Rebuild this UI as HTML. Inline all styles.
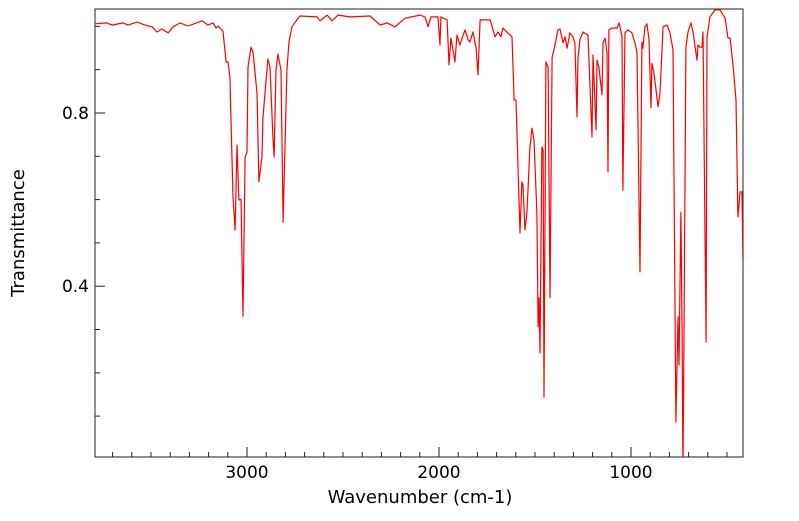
<!DOCTYPE html>
<html><head><meta charset="utf-8"><style>
body{margin:0;background:#fff;}
svg text{font-family:"DejaVu Sans","Liberation Sans",sans-serif;fill:#000;}
</style></head><body>
<svg id="chart" width="799" height="516" xmlns="http://www.w3.org/2000/svg">
<defs><clipPath id="clip"><rect x="95" y="9" width="648" height="448"/></clipPath></defs>
<rect x="95" y="9" width="648" height="448" fill="#fff" stroke="#222" stroke-width="1"/>
<g id="ticks"></g>
<g id="series" clip-path="url(#clip)"></g>
<text x="0" y="0" font-size="18" text-anchor="middle" transform="translate(24,233) rotate(-90)">Transmittance</text>
<text x="420" y="503" font-size="18" text-anchor="middle">Wavenumber (cm-1)</text>
</svg>
<script>
const wavenumbers=[3792,3729,3703,3646,3620,3573,3531,3495,3469,3443,3411,3385,3349,3307,3234,3203,3177,3161,3151,3125,3109,3099,3089,3073,3062,3052,3042,3031,3021,3010,3000,2995,2979,2969,2948,2938,2922,2917,2891,2880,2865,2859,2849,2839,2823,2812,2792,2781,2766,2740,2724,2635,2620,2583,2557,2526,2464,2359,2307,2271,2229,2177,2099,2073,2057,2042,2005,1995,1990,1958,1948,1938,1927,1917,1906,1891,1880,1864,1849,1839,1823,1807,1797,1786,1734,1708,1693,1677,1667,1641,1620,1609,1599,1578,1568,1563,1552,1542,1526,1516,1505,1490,1484,1479,1474,1464,1458,1453,1443,1432,1422,1411,1401,1380,1370,1354,1344,1333,1318,1302,1292,1281,1276,1266,1250,1224,1203,1198,1182,1177,1167,1151,1146,1135,1125,1120,1115,1099,1073,1062,1047,1042,1031,1016,995,979,969,953,943,938,927,917,906,896,891,880,859,849,833,812,797,781,766,755,750,740,734,729,724,714,703,688,677,656,651,641,630,625,609,604,589,562,536,510,495,484,469,453,443,432,422,417];
const transmittance=[1.006,1.008,1.003,1.008,1.003,1.010,1.003,0.999,0.987,0.994,0.985,0.999,1.008,1.001,1.013,1.003,1.008,0.996,1.001,0.989,0.918,0.918,0.883,0.606,0.530,0.726,0.599,0.601,0.331,0.698,0.710,0.906,0.952,0.941,0.846,0.641,0.698,0.788,0.925,0.906,0.745,0.698,0.899,0.936,0.899,0.548,0.899,0.964,0.999,1.015,1.024,1.022,1.013,1.026,1.013,1.026,1.022,1.024,1.003,1.008,0.999,1.019,1.026,1.022,0.999,1.022,1.022,0.957,1.022,1.015,0.911,0.973,0.945,0.918,0.980,0.957,0.973,0.992,0.969,0.964,0.987,0.950,0.888,1.015,1.015,0.976,0.987,0.976,0.996,0.985,0.976,0.830,0.830,0.523,0.641,0.634,0.530,0.569,0.722,0.765,0.738,0.569,0.306,0.373,0.246,0.722,0.715,0.144,0.918,0.906,0.373,0.929,0.946,0.992,0.994,0.962,0.976,0.950,0.985,0.976,0.962,0.791,0.927,0.969,0.987,0.980,0.745,0.934,0.761,0.922,0.906,0.842,0.962,0.973,0.939,0.664,0.992,0.996,0.996,1.008,0.976,0.622,0.985,0.992,0.985,0.962,0.939,0.433,0.964,0.950,0.999,1.006,0.969,0.812,0.915,0.892,0.814,0.846,0.999,1.003,0.985,0.946,0.086,0.329,0.218,0.571,0.292,-0.024,0.292,0.952,0.987,1.008,0.987,0.922,0.957,0.952,0.952,0.987,0.271,0.973,1.022,1.038,1.038,1.019,0.973,0.973,0.911,0.830,0.560,0.618,0.618,0.461];
const xTickLabels=[3000,2000,1000];
const yTickLabels=[0.8,0.4];
const NS="http://www.w3.org/2000/svg";
function xs(w){return 247+(3000-w)*0.192;}
function ys(t){return 113-(t-0.8)*433;}
const ticks=document.getElementById('ticks');
function line(x1,y1,x2,y2,name){const l=document.createElementNS(NS,'line');l.setAttribute('x1',x1);l.setAttribute('y1',y1);l.setAttribute('x2',x2);l.setAttribute('y2',y2);l.setAttribute('stroke','#222');l.setAttribute('stroke-width','1');


ticks.appendChild(l);}
for(let w=500;w<=3700;w+=100){const x=xs(w);const major=w%1000===0;line(x,457,x,major?447:452,'x-tick');}
for(let k=1;k<=10;k++){const t=k/10;const y=ys(t);if(y<10||y>456)continue;const major=yTickLabels.some(v=>Math.abs(v-t)<1e-6);line(95,y,major?105:100,y,'y-tick');}
xTickLabels.forEach(v=>{const t=document.createElementNS(NS,'text');t.setAttribute('x',xs(v));t.setAttribute('y',478);t.setAttribute('font-size','17');t.setAttribute('text-anchor','middle');t.textContent=v;


ticks.appendChild(t);});
yTickLabels.forEach(v=>{const t=document.createElementNS(NS,'text');t.setAttribute('x',89);t.setAttribute('y',ys(v)+6);t.setAttribute('font-size','17');t.setAttribute('text-anchor','end');t.textContent=v.toFixed(1);


ticks.appendChild(t);});
const p=document.createElementNS(NS,'path');
p.setAttribute('d',wavenumbers.map((w,i)=>(i?'L':'M')+xs(w).toFixed(1)+','+ys(transmittance[i]).toFixed(1)).join(''));
p.setAttribute('fill','none');p.setAttribute('stroke','#ff0000');p.setAttribute('stroke-width','1.2');p.setAttribute('stroke-linejoin','round');


document.getElementById('series').appendChild(p);
</script>
</body></html>
